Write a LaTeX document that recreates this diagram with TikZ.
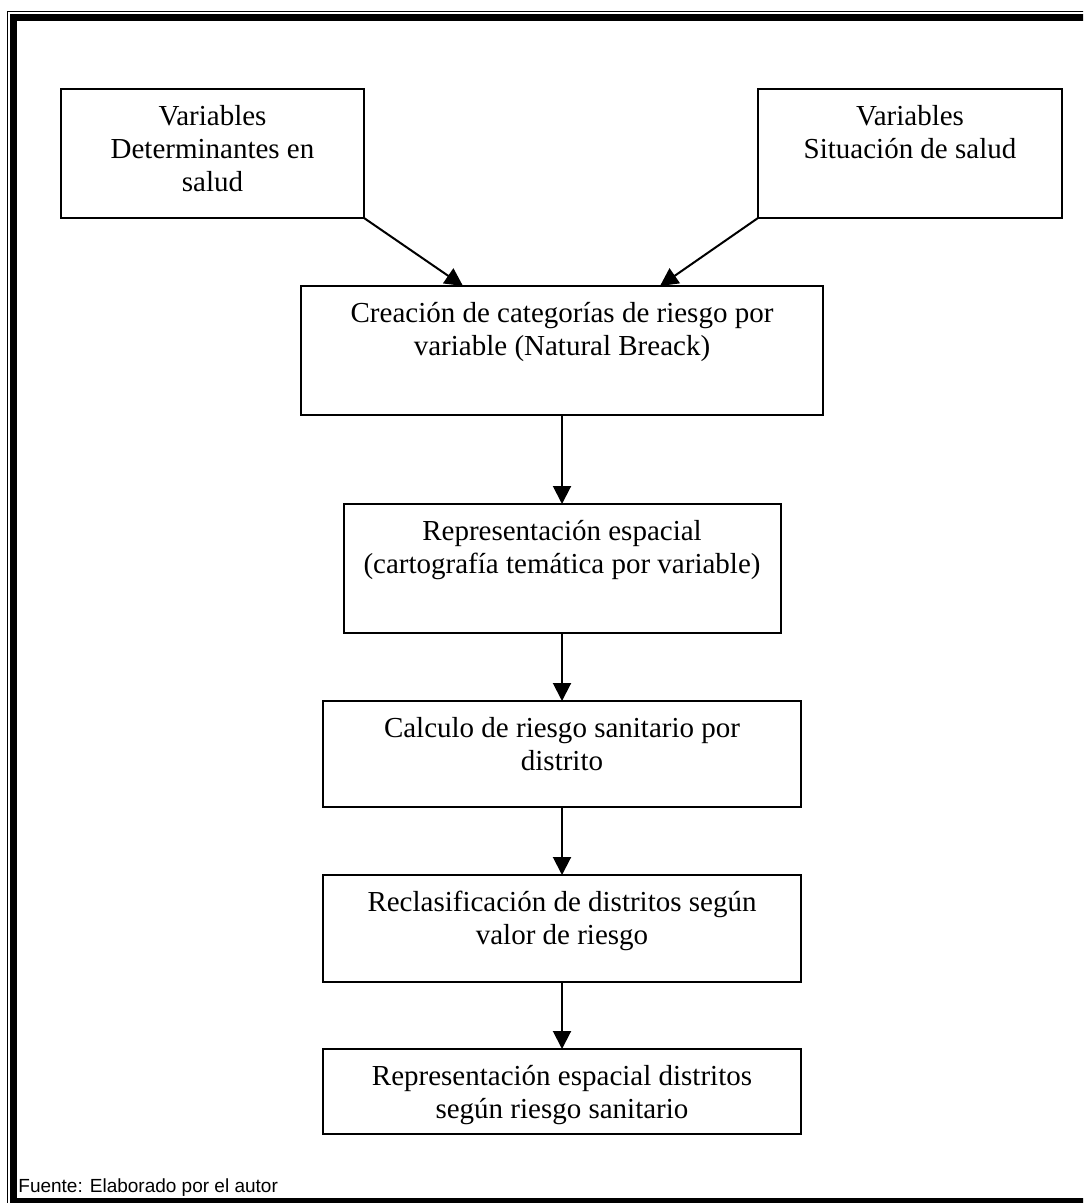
\documentclass[tikz,border=0pt]{standalone}
\usepackage{fontspec}
\setmainfont{Liberation Serif}
\newfontfamily\fuentefont{Liberation Sans}
\usetikzlibrary{arrows.meta, positioning}

\begin{document}
\begin{tikzpicture}[x=0.5pt, y=-0.5pt, node distance=34pt]
        % estilos de los cuadros y flechas
        \tikzstyle{stepbox} = [rectangle, draw=black, line width=1pt, inner sep=0pt, outer sep=0pt]
        \tikzstyle{boxtext} = [align=center, inner sep=0pt, font=\fontsize{14.5}{16.5}\selectfont]
        \tikzstyle{arrow} = [line width=1pt, -{Triangle[width=9pt, length=9pt]}]

        \clip (0,0) rectangle (1083,1203);
        \useasboundingbox (0,0) rectangle (1083,1203);

        % marco doble
        \draw [line width=0.5pt] (7.5,11.5) rectangle (1100,1220);
        \draw [line width=3.5pt] (13.5,18) rectangle (1090,1201.5);

        % variables de entrada
        \node (vardet) [stepbox, minimum width=151.5pt, minimum height=64.5pt] at (212.5,153.5) {};
        \node (vardet_txt) [boxtext, below=8pt of vardet.north] {Variables\\Determinantes en\\salud};
        \node (varsit) [stepbox, minimum width=152pt, minimum height=64.5pt] at (910,153.5) {};
        \node (varsit_txt) [boxtext, below=8pt of varsit.north] {Variables\\Situación de salud};

        % categorias de riesgo
        \node (creacion) [stepbox, minimum width=261pt, minimum height=64.5pt] at (562,350.5) {};
        \node (creacion_txt) [boxtext, below=8pt of creacion.north] {Creación de categorías de riesgo por\\variable (Natural Breack)};

        % representacion espacial
        \node (represent) [stepbox, minimum width=218.5pt, minimum height=64.5pt, below=44.5pt of creacion] {};
        \node (represent_txt) [boxtext, below=8pt of represent.north] {Representación espacial\\(cartografía temática por variable)};

        % calculo de riesgo
        \node (calculo) [stepbox, minimum width=239pt, minimum height=53pt, below=of represent] {};
        \node (calculo_txt) [boxtext, below=8pt of calculo.north] {Calculo de riesgo sanitario por\\distrito};

        % reclasificacion
        \node (reclasif) [stepbox, minimum width=239pt, minimum height=53.5pt, below=of calculo] {};
        \node (reclasif_txt) [boxtext, below=8pt of reclasif.north] {Reclasificación de distritos según\\valor de riesgo};

        % resultado final
        \node (distritos) [stepbox, minimum width=239pt, minimum height=42.5pt, below=33.5pt of reclasif] {};
        \node (distritos_txt) [boxtext, below=8pt of distritos.north] {Representación espacial distritos\\según riesgo sanitario};

        % fuente
        \node (fuente) [anchor=base west, inner sep=0pt, font=\fuentefont\fontsize{9.5}{11}\selectfont] at (18,1192) {Fuente: Elaborado por el autor};

        % flechas
        \draw [arrow] (vardet.south east) -- ([xshift=-49.5pt]creacion.north);
        \draw [arrow] (varsit.south west) -- ([xshift=49pt]creacion.north);
        \draw [arrow] (creacion) -- (represent);
        \draw [arrow] (represent) -- (calculo);
        \draw [arrow] (calculo) -- (reclasif);
        \draw [arrow] (reclasif) -- (distritos);

    \end{tikzpicture}
\end{document}
